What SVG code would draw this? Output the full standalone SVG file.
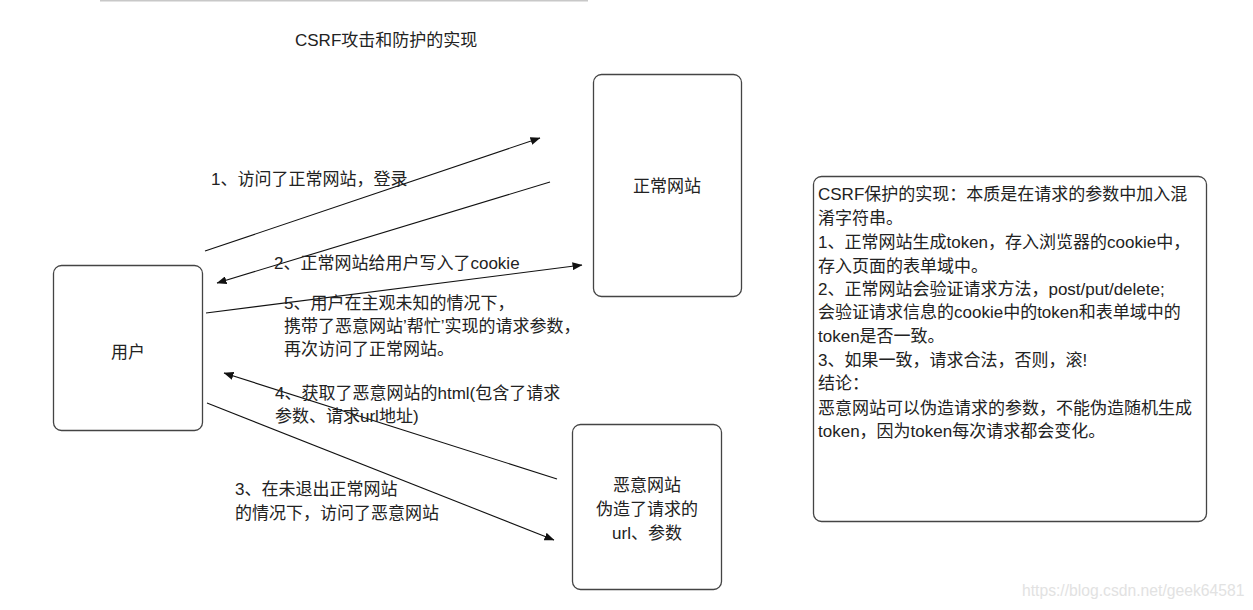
<svg xmlns="http://www.w3.org/2000/svg" width="1253" height="610" viewBox="0 0 1253 610">
<style>
text{font-family:"Liberation Sans","Noto Sans CJK SC",sans-serif;font-size:17px;fill:#222}
.box{fill:#fff;stroke:#444;stroke-width:1.3}
.c{text-anchor:middle}
.conn line{stroke:#111;stroke-width:1.1;marker-end:url(#ah)}
.wm{font-size:15.7px;fill:#e2e2e2}
</style>
<defs>
<marker id="ah" viewBox="0 0 10 8" refX="9.5" refY="4" markerWidth="10" markerHeight="8" markerUnits="userSpaceOnUse" orient="auto">
<path d="M0,0 L10,4 L0,8 Z" fill="#111"/>
</marker>
</defs>
<rect width="1253" height="610" fill="#fff"/>
<line x1="100" y1="0.8" x2="588" y2="0.8" stroke="#c8c8c8" stroke-width="1.5"/>
<text id="title" x="295" y="46">CSRF攻击和防护的实现</text>

<g id="connectors" class="conn">
<line x1="205" y1="251" x2="540" y2="138"/>
<line x1="550" y1="182" x2="217" y2="283"/>
<line x1="206" y1="313" x2="582" y2="265"/>
<line x1="557" y1="479" x2="224" y2="373"/>
<line x1="207" y1="403" x2="554" y2="540"/>
</g>

<g id="labels">
<text x="211" y="185">1、访问了正常网站，登录</text>
<text x="274" y="269">2、正常网站给用户写入了cookie</text>
<text x="284" y="309">5、用户在主观未知的情况下，</text>
<text x="284" y="332">携带了恶意网站’帮忙’实现的请求参数，</text>
<text x="284" y="355">再次访问了正常网站。</text>
<text x="275" y="399">4、获取了恶意网站的html(包含了请求</text>
<text x="275" y="422">参数、请求url地址)</text>
<text x="235" y="495">3、在未退出正常网站</text>
<text x="235" y="519">的情况下，访问了恶意网站</text>
</g>

<g id="user">
<rect class="box" x="53.5" y="265.5" width="149" height="165" rx="8"/>
<text class="c" x="128" y="358">用户</text>
</g>

<g id="normal-site">
<rect class="box" x="593.5" y="74.5" width="148" height="222" rx="8"/>
<text class="c" x="667" y="192">正常网站</text>
</g>

<g id="malicious-site">
<rect class="box" x="572.5" y="424.5" width="149" height="165" rx="8"/>
<text class="c" x="647" y="491">恶意网站</text>
<text class="c" x="647" y="515">伪造了请求的</text>
<text class="c" x="647" y="539">url、参数</text>
</g>

<g id="protection">
<rect class="box" x="813.5" y="176.5" width="393" height="345" rx="8"/>
<text x="818" y="200">CSRF保护的实现：本质是在请求的参数中加入混</text>
<text x="818" y="224">淆字符串。</text>
<text x="818" y="248">1、正常网站生成token，存入浏览器的cookie中，</text>
<text x="818" y="272">存入页面的表单域中。</text>
<text x="818" y="295">2、正常网站会验证请求方法，post/put/delete;</text>
<text x="818" y="318">会验证请求信息的cookie中的token和表单域中的</text>
<text x="818" y="342">token是否一致。</text>
<text x="818" y="366">3、如果一致，请求合法，否则，滚!</text>
<text x="818" y="389">结论：</text>
<text x="818" y="414">恶意网站可以伪造请求的参数，不能伪造随机生成</text>
<text x="818" y="437">token，因为token每次请求都会变化。</text>
</g>

<text class="wm" x="1022" y="596">https://blog.csdn.net/geek64581</text>
</svg>
